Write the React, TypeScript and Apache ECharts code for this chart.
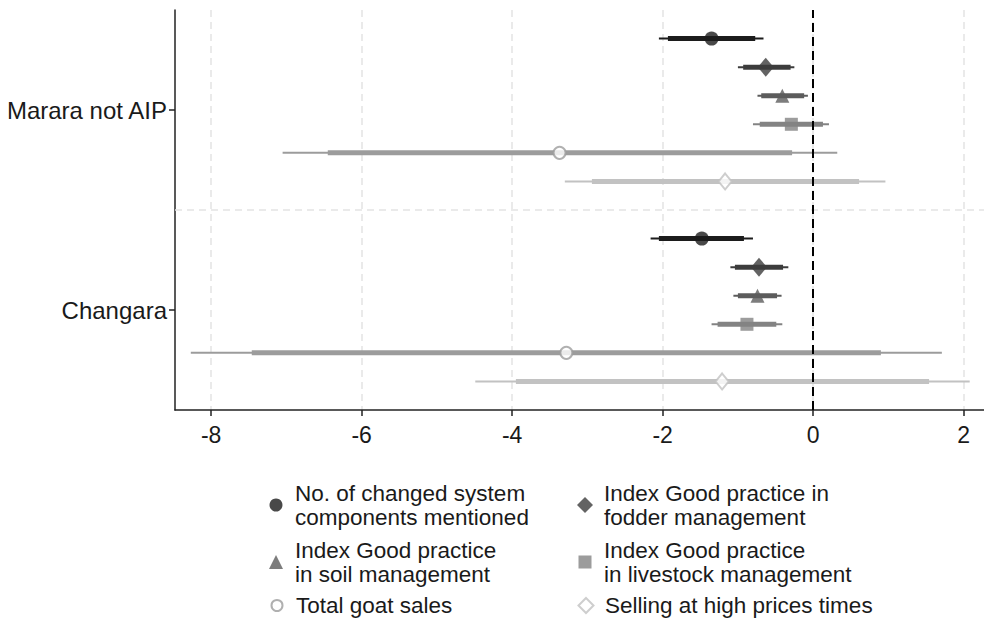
import React, { useEffect, useRef } from "react";
import * as echarts from "echarts";

// Groups on the y axis, bottom to top
const GROUPS = ["Changara", "Marara not AIP"];
const X_TICKS = [-8, -6, -4, -2, 0, 2];
const X_MIN = -8.48;
const X_MAX = 2.27;
const REF_X = 0;

const SERIES_NAMES = [
  "No. of changed system\ncomponents mentioned",
  "Index Good practice in\nfodder management",
  "Index Good practice\nin soil management",
  "Index Good practice\nin livestock management",
  "Total goat sales",
  "Selling at high prices times",
];

// Values per measure: [Changara, Marara not AIP]
const ESTIMATE = [
  [-1.48, -1.35],
  [-0.72, -0.63],
  [-0.74, -0.41],
  [-0.88, -0.29],
  [-3.28, -3.37],
  [-1.21, -1.17],
];
// outer (thin) interval
const CI_LOW = [
  [-2.16, -2.05],
  [-1.1, -1.0],
  [-1.06, -0.74],
  [-1.35, -0.8],
  [-8.27, -7.05],
  [-4.49, -3.3],
];
const CI_HIGH = [
  [-0.8, -0.66],
  [-0.33, -0.25],
  [-0.42, -0.07],
  [-0.41, 0.21],
  [1.71, 0.32],
  [2.08, 0.96],
];
// inner (thick) interval
const CI_IN_LOW = [
  [-2.05, -1.93],
  [-1.04, -0.93],
  [-1.0, -0.69],
  [-1.27, -0.71],
  [-7.46, -6.45],
  [-3.95, -2.94],
];
const CI_IN_HIGH = [
  [-0.92, -0.77],
  [-0.4, -0.3],
  [-0.48, -0.12],
  [-0.49, 0.13],
  [0.9, -0.28],
  [1.54, 0.61],
];

const COLORS = ["#1c1c1c", "#3c3c3c", "#5c5c5c", "#838383", "#9c9c9c", "#c2c2c2"];
const SYMBOLS = ["circle", "diamond", "triangle", "rect", "emptyCircle", "emptyDiamond"];
const SYMBOL_SIZES: any[] = [14, [16, 19], 14, 13, 12, [13, 16]];
const LEGEND_SIZES = [13, 16, 14, 13, 11, 15];

const FONT = "'Liberation Sans', Arial, Helvetica, sans-serif";

export default function App() {
  const ref = useRef<HTMLDivElement>(null);

  useEffect(() => {
    if (!ref.current) return;
    const chart = echarts.init(ref.current, undefined, { renderer: "svg" });
    const n = SERIES_NAMES.length;
    const offset = (i: number) => ((n - 1) / 2 - i) / 7;

    const series: any[] = [];
    SERIES_NAMES.forEach((name, i) => {
      const empty = SYMBOLS[i].startsWith("empty");
      series.push({
        name,
        type: "scatter",
        xAxisIndex: 0,
        yAxisIndex: 1,
        symbol: SYMBOLS[i],
        symbolSize: SYMBOL_SIZES[i],
        z: 5,
        itemStyle: empty
          ? { color: COLORS[i], borderColor: COLORS[i], borderWidth: 2 }
          : { color: COLORS[i] },
        data: GROUPS.map((_, g) => [ESTIMATE[i][g], g + offset(i)]),
      });
      series.push({
        name,
        type: "custom",
        xAxisIndex: 0,
        yAxisIndex: 1,
        z: 3,
        encode: { x: [0, 1, 2, 3], y: 4 },
        data: GROUPS.map((_, g) => [
          CI_LOW[i][g],
          CI_HIGH[i][g],
          CI_IN_LOW[i][g],
          CI_IN_HIGH[i][g],
          g + offset(i),
        ]),
        renderItem: (params: any, api: any) => {
          const y = api.value(4);
          const a = api.coord([api.value(0), y]);
          const b = api.coord([api.value(1), y]);
          const c = api.coord([api.value(2), y]);
          const d = api.coord([api.value(3), y]);
          return {
            type: "group",
            children: [
              {
                type: "line",
                shape: { x1: a[0], y1: a[1], x2: b[0], y2: b[1] },
                style: { stroke: COLORS[i], lineWidth: 2 },
              },
              {
                type: "line",
                shape: { x1: c[0], y1: c[1], x2: d[0], y2: d[1] },
                style: { stroke: COLORS[i], lineWidth: 5 },
              },
            ],
          };
        },
        markLine:
          i === 0
            ? {
                silent: true,
                symbol: "none",
                label: { show: false },
                animation: false,
                data: [
                  {
                    yAxis: 0.5,
                    lineStyle: { color: "#e4e4e4", type: [7, 5], width: 1.5 },
                  },
                  {
                    xAxis: REF_X,
                    lineStyle: { color: "#000", type: [9, 5], width: 2 },
                  },
                ],
              }
            : undefined,
      });
    });

    const iconCenter = [276, 585];
    const textStart = [295, 604];
    const legendTop = [481, 538, 593.5];
    const legends = SERIES_NAMES.map((name, i) => {
      const col = i % 2;
      const s = LEGEND_SIZES[i];
      const left = iconCenter[col] - s / 2;
      const pad = textStart[col] - (left + s + 5);
      return {
        show: true,
        data: [name],
        left,
        top: legendTop[Math.floor(i / 2)],
        padding: 0,
        itemWidth: s,
        itemHeight: s,
        selectedMode: false,
        textStyle: {
          fontSize: 22.5,
          lineHeight: 24,
          color: "#1a1a1a",
          fontFamily: FONT,
          padding: [0, 0, 0, pad],
        },
      };
    });

    chart.setOption({
      animation: false,
      backgroundColor: "#ffffff",
      textStyle: { fontFamily: FONT },
      grid: { left: 175, top: 10, right: 0, height: 400, containLabel: false },
      legend: legends,
      xAxis: {
        type: "value",
        min: X_MIN,
        max: X_MAX,
        axisLine: { show: true, onZero: false, lineStyle: { color: "#222", width: 1.5 } },
        axisTick: { show: true, length: 6, customValues: X_TICKS, lineStyle: { color: "#222", width: 1.5 } },
        axisLabel: {
          customValues: X_TICKS,
          fontSize: 23,
          color: "#1a1a1a",
          margin: 13,
          fontFamily: FONT,
        },
        splitLine: { show: true, lineStyle: { color: "#e4e4e4", type: [7, 5], width: 1.5 } },
      },
      yAxis: [
        {
          type: "category",
          data: GROUPS,
          position: "left",
          axisLine: { show: true, onZero: false, lineStyle: { color: "#222", width: 1.5 } },
          axisTick: { show: true, alignWithLabel: true, length: 6, lineStyle: { color: "#222", width: 1.5 } },
          axisLabel: { fontSize: 24, color: "#1a1a1a", margin: 8, fontFamily: FONT },
          splitLine: { show: false },
        },
        {
          type: "value",
          min: -0.5,
          max: 1.5,
          show: false,
          splitLine: { show: false },
        },
      ],
      series,
    });
    return () => chart.dispose();
  }, []);

  return (
    <div
      ref={ref}
      style={{ position: "absolute", left: 0, top: 0, width: 984, height: 618, background: "#fff" }}
    />
  );
}
